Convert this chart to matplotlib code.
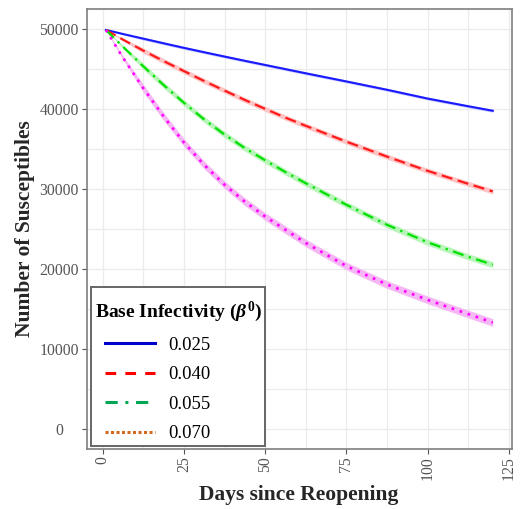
import matplotlib
matplotlib.use("Agg")
import matplotlib.pyplot as plt
from matplotlib.lines import Line2D
from matplotlib.legend_handler import HandlerLine2D
import numpy as np

days = [1, 6.25, 12.5, 18.75, 25, 31.25, 37.5, 43.75, 50, 56.25, 62.5, 75, 87.5, 100, 112.5, 120]
s_025 = [49850, 49340, 48760, 48180, 47610, 47060, 46520, 45990, 45470, 44950, 44430,
         43410, 42370, 41270, 40310, 39750]
s_040 = [49850, 48640, 47270, 45960, 44710, 43460, 42270, 41100, 39990, 38890, 37870,
         35890, 34020, 32240, 30620, 29680]
s_055 = [49850, 47750, 45310, 42970, 40750, 38660, 36780, 35090, 33560, 32090, 30690,
         28000, 25500, 23310, 21500, 20530]
s_070 = [49850, 46385, 42570, 39040, 35790, 32980, 30510, 28390, 26540, 24880, 23230,
         20350, 18040, 16120, 14350, 13300]
band_halfwidth = [180, 320, 380, 480]
labels = ["0.025", "0.040", "0.055", "0.070"]
x_ticks = [0, 25, 50, 75, 100, 125]
y_ticks = [0, 10000, 20000, 30000, 40000, 50000]

plt.rcParams['font.family'] = ['Liberation Serif', 'DejaVu Serif']
plt.rcParams['mathtext.fontset'] = 'custom'
plt.rcParams['mathtext.rm'] = 'Liberation Serif:bold'
plt.rcParams['mathtext.it'] = 'Liberation Serif:italic:bold'
plt.rcParams['mathtext.bf'] = 'Liberation Serif:bold'

fig = plt.figure(figsize=(5.28, 5.09), dpi=100)
ax = fig.add_axes([0.1648, 0.1179, 0.8042, 0.8650])

series = [s_025, s_040, s_055, s_070]
line_colors = ['#1a1aff', '#ff1a1a', '#00e000', '#ff00ff']
band_colors = ['#c8c8ff', '#ffc4c4', '#b8f5b8', '#f5b8f5']
styles = ['-', (0, (5, 2.5)), (0, (5, 2.5, 1, 2.5)), (0, (1, 2.2))]
widths = [1.5, 1.6, 1.6, 1.9]

d = np.array(days)
ramp = np.clip(d / 12.5, 0, 1)
for s, lc, bc, ls, lw, hw in zip(series, line_colors, band_colors, styles, widths, band_halfwidth):
    s = np.array(s, dtype=float)
    ax.fill_between(d, s - hw * ramp, s + hw * ramp, color=bc, linewidth=0, zorder=2)
    ax.plot(d, s, color=lc, linestyle=ls, linewidth=lw, zorder=3)

ax.set_xlim(-4.8, 125.8)
ax.set_ylim(-2500, 52500)
ax.set_xticks(x_ticks)
ax.set_yticks(y_ticks)
ax.set_xticks([12.5, 37.5, 62.5, 87.5, 112.5], minor=True)
ax.set_yticks([5000, 15000, 25000, 35000, 45000], minor=True)
ax.grid(True, which='major', color='#ebebeb', linewidth=0.9)
ax.grid(True, which='minor', color='#ebebeb', linewidth=0.9)
ax.set_axisbelow(True)
ax.tick_params(which='minor', length=0)
ax.tick_params(which='major', length=3.5, color='#555555', width=0.8, labelcolor='#555555', labelsize=11.3)
ax.set_xticklabels([str(v) for v in x_ticks], rotation=90, va='top')
for lab in ax.get_yticklabels():
    lab.set_horizontalalignment('center')
ax.tick_params(axis='y', pad=16.5)
ax.tick_params(axis='x', pad=1.5)
for sp in ax.spines.values():
    sp.set_color('#7f7f7f')
    sp.set_linewidth(1.2)

fig.text(299 / 528, 1 - 495 / 509, 'Days since Reopening', fontsize=15.5, fontweight='bold',
         color='#262626', ha='center', va='center')
fig.text(25 / 528, 1 - 229 / 509, 'Number of Susceptibles', fontsize=15.5, fontweight='bold',
         color='#262626', ha='center', va='center', rotation=90)

leg_colors = ['#0000cc', '#ff0000', '#00a651', '#d2691e']
handles = [Line2D([0], [0], color=c, linestyle=ls, linewidth=2.2)
           for c, ls in zip(leg_colors, ['-', (0, (3.5, 3)), (0, (4, 2.5, 1, 2.5)), (0, (1, 0.8))])]
leg = ax.legend(handles, labels, title='\n' + r'Base Infectivity ($\beta^{0}$)',
                loc='lower left', bbox_to_anchor=(0.0094, 0.0069), borderaxespad=0,
                frameon=True, fancybox=False, alignment='left',
                edgecolor='#666666', framealpha=1, fontsize=13.5, title_fontsize=14,
                handlelength=3.22, handletextpad=0.7, labelspacing=0.66, borderpad=0.19,
                handler_map={Line2D: HandlerLine2D(xpad=0.55)})
leg.get_title().set_fontweight('bold')
leg.get_title().set_linespacing(0.55)
leg.get_frame().set_linewidth(1.4)
leg.set_zorder(5)

fig.savefig('out.png', dpi=100)
